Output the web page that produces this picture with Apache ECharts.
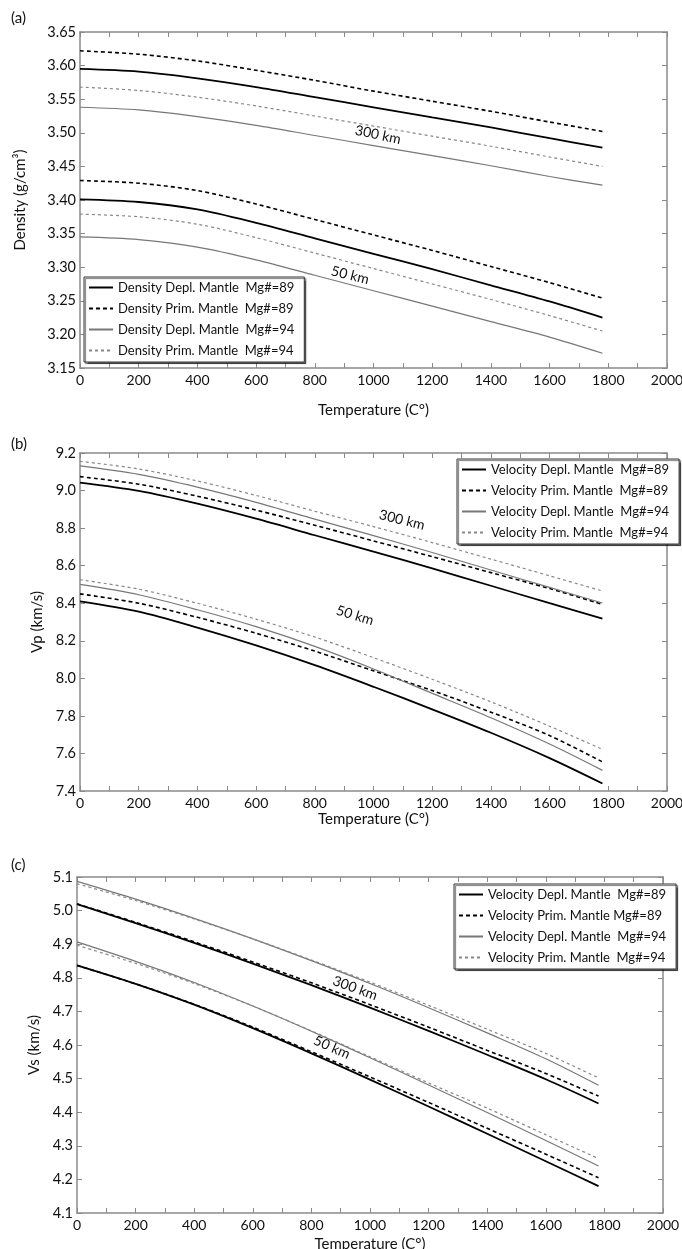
<!DOCTYPE html>
<html>
<head>
<meta charset="utf-8">
<script src="https://cdn.jsdelivr.net/npm/echarts@6.0.0/dist/echarts.min.js"></script>
<style>
  html, body { margin: 0; padding: 0; background: #fff; }
  #chart { width: 682px; height: 1249px; }
</style>
</head>
<body>
<div id="chart"></div>
<script>
const temp = [0, 200, 400, 600, 800, 1000, 1200, 1400, 1600, 1780];

// (a) density, g/cm3 — 300 km and 50 km
const rhoDepl89_300 = [3.595, 3.591, 3.581, 3.568, 3.553, 3.538, 3.523, 3.508, 3.492, 3.478];
const rhoPrim89_300 = [3.622, 3.617, 3.607, 3.593, 3.578, 3.562, 3.547, 3.532, 3.516, 3.502];
const rhoDepl94_300 = [3.538, 3.534, 3.524, 3.511, 3.496, 3.481, 3.466, 3.451, 3.435, 3.422];
const rhoPrim94_300 = [3.568, 3.563, 3.553, 3.540, 3.525, 3.510, 3.495, 3.480, 3.464, 3.450];
const rhoDepl89_50 = [3.401, 3.397, 3.386, 3.366, 3.343, 3.320, 3.297, 3.273, 3.249, 3.225];
const rhoPrim89_50 = [3.429, 3.425, 3.414, 3.394, 3.371, 3.348, 3.325, 3.301, 3.277, 3.254];
const rhoDepl94_50 = [3.345, 3.341, 3.330, 3.311, 3.288, 3.265, 3.242, 3.219, 3.196, 3.172];
const rhoPrim94_50 = [3.379, 3.375, 3.364, 3.344, 3.321, 3.298, 3.275, 3.252, 3.228, 3.205];

// (b) Vp, km/s
const vpDepl89_300 = [9.042, 8.998, 8.930, 8.850, 8.762, 8.675, 8.585, 8.493, 8.400, 8.318];
const vpPrim89_300 = [9.074, 9.034, 8.970, 8.896, 8.815, 8.732, 8.648, 8.563, 8.478, 8.394];
const vpDepl94_300 = [9.131, 9.086, 9.018, 8.937, 8.848, 8.760, 8.670, 8.577, 8.484, 8.401];
const vpPrim94_300 = [9.156, 9.115, 9.051, 8.974, 8.890, 8.808, 8.723, 8.635, 8.546, 8.465];
const vpDepl89_50 = [8.410, 8.355, 8.270, 8.175, 8.070, 7.955, 7.835, 7.710, 7.575, 7.440];
const vpPrim89_50 = [8.450, 8.400, 8.325, 8.240, 8.145, 8.040, 7.935, 7.820, 7.695, 7.555];
const vpDepl94_50 = [8.500, 8.445, 8.365, 8.275, 8.170, 8.050, 7.920, 7.790, 7.650, 7.510];
const vpPrim94_50 = [8.525, 8.475, 8.400, 8.315, 8.220, 8.110, 7.995, 7.875, 7.745, 7.622];

// (c) Vs, km/s
const vsDepl89_300 = [5.019, 4.963, 4.904, 4.842, 4.778, 4.711, 4.642, 4.571, 4.498, 4.426];
const vsPrim89_300 = [5.020, 4.965, 4.907, 4.847, 4.785, 4.720, 4.653, 4.584, 4.515, 4.448];
const vsDepl94_300 = [5.087, 5.034, 4.977, 4.916, 4.851, 4.783, 4.711, 4.636, 4.559, 4.480];
const vsPrim94_300 = [5.080, 5.030, 4.975, 4.916, 4.853, 4.787, 4.718, 4.647, 4.575, 4.502];
const vsDepl89_50 = [4.837, 4.782, 4.720, 4.650, 4.575, 4.497, 4.417, 4.336, 4.254, 4.180];
const vsPrim89_50 = [4.837, 4.782, 4.721, 4.653, 4.580, 4.505, 4.429, 4.352, 4.275, 4.205];
const vsDepl94_50 = [4.907, 4.849, 4.786, 4.716, 4.641, 4.562, 4.481, 4.399, 4.316, 4.240];
const vsPrim94_50 = [4.897, 4.843, 4.783, 4.716, 4.642, 4.565, 4.487, 4.412, 4.333, 4.262];

const namesA = ['Density Depl. Mantle  Mg#=89', 'Density Prim. Mantle  Mg#=89',
                'Density Depl. Mantle  Mg#=94', 'Density Prim. Mantle  Mg#=94'];
const namesB = ['Velocity Depl. Mantle  Mg#=89', 'Velocity Prim. Mantle  Mg#=89',
                'Velocity Depl. Mantle  Mg#=94', 'Velocity Prim. Mantle  Mg#=94'];
const namesC = ['Velocity Depl. Mantle  Mg#=89', 'Velocity Prim. Mantle Mg#=89',
                'Velocity Depl. Mantle  Mg#=94', 'Velocity Prim. Mantle  Mg#=94'];

const panelTags = ['(a)', '(b)', '(c)'];

// depth labels: panel, text, temperature, value
const kmNotes = [
  [0, '300 km', 1015, 3.497], [0, '50 km', 920, 3.288],
  [1, '300 km', 1097, 8.843], [1, '50 km', 937, 8.335],
  [2, '300 km', 949, 4.769], [2, '50 km', 870, 4.593]
];
const kmAngle = [12, 14, 14, 17, 20, 24];

const FONT = 'Lato, "Open Sans", sans-serif';
const AXIS_COLOR = '#8a8a8a';

let chart = echarts.init(document.getElementById('chart'));

// line looks: depl89, prim89, depl94, prim94
const looks = [
  { color: '#000', width: 1.8, type: 'solid' },
  { color: '#000', width: 1.6, type: [4, 3] },
  { color: '#777', width: 1.2, type: 'solid' },
  { color: '#888', width: 1.2, type: [3, 3] }
];

function line(name, ys, look, p) {
  return {
    type: 'line', name: name,
    xAxisIndex: 2 * p, yAxisIndex: 2 * p,
    data: temp.map((t, i) => [t, ys[i]]),
    symbol: 'none', smooth: 0.3, silent: true,
    lineStyle: { color: look.color, width: look.width, type: look.type },
    itemStyle: { color: look.color }
  };
}

function panelSeries(p, names, top, bottom) {
  let out = [];
  for (let k = 0; k < 4; k++) out.push(line(names[k], top[k], looks[k], p));
  for (let k = 0; k < 4; k++) out.push(line(names[k], bottom[k], looks[k], p));
  return out;
}

const tickStyle = {
  axisLine: { show: true, onZero: false, lineStyle: { color: AXIS_COLOR, width: 1.5 } },
  axisTick: { show: true, inside: true, length: 5, lineStyle: { color: AXIS_COLOR, width: 1 } },
  splitLine: { show: false }
};

function xAxes(p, nameGap) {
  return [
    Object.assign({
      gridIndex: p, type: 'value', position: 'bottom', min: 0, max: 2000, interval: 100,
      name: 'Temperature (C°)', nameLocation: 'middle', nameGap: nameGap,
      nameTextStyle: { fontFamily: FONT, fontSize: 15, color: '#111' },
      axisLabel: { fontFamily: FONT, fontSize: 14, color: '#111', margin: 5,
        formatter: v => (v % 200 === 0 ? String(v) : '') }
    }, tickStyle),
    Object.assign({
      gridIndex: p, type: 'value', position: 'top', min: 0, max: 2000, interval: 100,
      axisLabel: { show: false }
    }, tickStyle)
  ];
}

function yAxes(p, min, max, step, digits, name, nameGap) {
  return [
    Object.assign({
      gridIndex: p, type: 'value', position: 'left', min: min, max: max, interval: step,
      name: name, nameLocation: 'middle', nameGap: nameGap, nameRotate: 90,
      nameTextStyle: { fontFamily: FONT, fontSize: 15, color: '#111' },
      axisLabel: { fontFamily: FONT, fontSize: 14.5, color: '#111', margin: 4,
        formatter: v => v.toFixed(digits) }
    }, tickStyle),
    Object.assign({
      gridIndex: p, type: 'value', position: 'right', min: min, max: max, interval: step,
      axisLabel: { show: false }
    }, tickStyle)
  ];
}

const legendBase = {
  orient: 'vertical', itemWidth: 24, itemHeight: 10, itemGap: 8,
  padding: [4, 10, 5, 4], selectedMode: false,
  borderColor: '#333', borderWidth: 1, backgroundColor: '#fff',
  shadowColor: 'rgba(0,0,0,0.55)', shadowBlur: 1, shadowOffsetX: 1.5, shadowOffsetY: 1.5,
  itemStyle: { opacity: 0 },
  textStyle: { fontFamily: FONT, fontSize: 13, color: '#111' }
};

chart.setOption({
  animation: false,
  textStyle: { fontFamily: FONT },
  grid: [
    { left: 80, right: 15, top: 32, height: 336, outerBoundsMode: 'none' },
    { left: 80, right: 15, top: 453, height: 338, outerBoundsMode: 'none' },
    { left: 77, right: 19, top: 877, height: 336, outerBoundsMode: 'none' }
  ],
  xAxis: [].concat(xAxes(0, 35), xAxes(1, 21), xAxes(2, 24)),
  yAxis: [].concat(
    yAxes(0, 3.15, 3.65, 0.05, 2, 'Density (g/cm³)', 52),
    yAxes(1, 7.4, 9.2, 0.2, 1, 'Vp (km/s)', 34),
    yAxes(2, 4.1, 5.1, 0.1, 1, 'Vs (km/s)', 27)
  ),
  legend: [
    Object.assign({ left: 84, top: 277, data: namesA }, legendBase),
    Object.assign({ left: 457, top: 459, data: namesB }, legendBase),
    Object.assign({ left: 454, top: 884, data: namesC }, legendBase)
  ],
  series: [].concat(
    panelSeries(0, namesA,
      [rhoDepl89_300, rhoPrim89_300, rhoDepl94_300, rhoPrim94_300],
      [rhoDepl89_50, rhoPrim89_50, rhoDepl94_50, rhoPrim94_50]),
    panelSeries(1, namesB,
      [vpDepl89_300, vpPrim89_300, vpDepl94_300, vpPrim94_300],
      [vpDepl89_50, vpPrim89_50, vpDepl94_50, vpPrim94_50]),
    panelSeries(2, namesC,
      [vsDepl89_300, vsPrim89_300, vsDepl94_300, vsPrim94_300],
      [vsDepl89_50, vsPrim89_50, vsDepl94_50, vsPrim94_50])
  )
});

// panel tags, then depth labels placed through each panel's axes
const tagTops = [11, 437, 858];
let texts = panelTags.map((t, i) => ({
  type: 'text', left: 11, top: tagTops[i],
  style: { text: t, fontFamily: FONT, fontSize: 15, fill: '#111' }
}));
kmNotes.forEach((n, i) => {
  let pt = chart.convertToPixel({ seriesIndex: n[0] * 8 }, [n[2], n[3]]);
  texts.push({
    type: 'text', x: pt[0], y: pt[1], rotation: -kmAngle[i] * Math.PI / 180, z: 10,
    style: { text: n[1], fontFamily: FONT, fontSize: 14, fill: '#111',
      align: 'center', verticalAlign: 'middle' }
  });
});
chart.setOption({ graphic: texts });
</script>
</body>
</html>
